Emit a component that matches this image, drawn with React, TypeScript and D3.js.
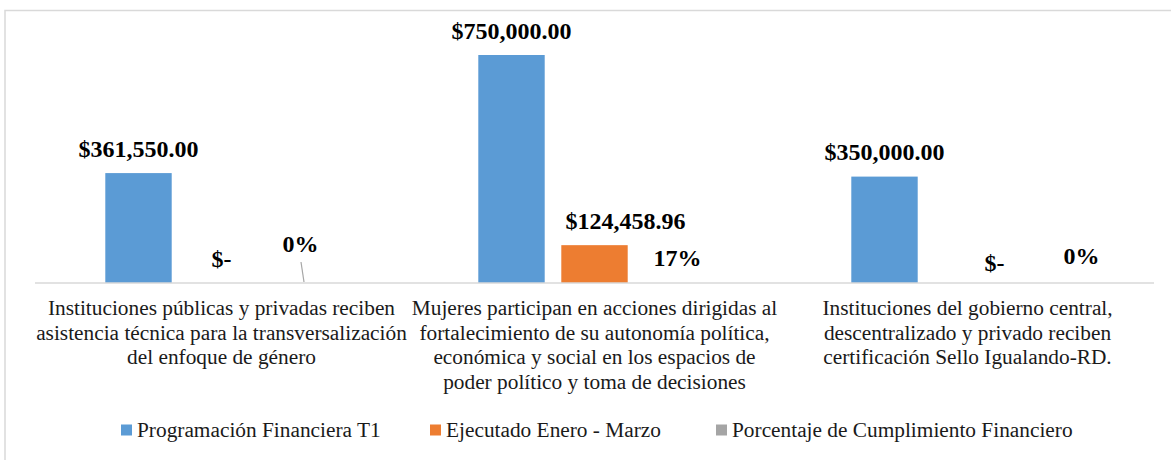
import React from "react";
import * as d3 from "d3";

// ---- data ----
const categories: string[][] = [
  ["Instituciones públicas y privadas reciben", "asistencia técnica para la transversalización", "del enfoque de género"],
  ["Mujeres participan en acciones dirigidas al", "fortalecimiento de su autonomía política,", "económica y social en los espacios de", "poder político y toma de decisiones"],
  ["Instituciones del gobierno central,", "descentralizado y privado reciben", "certificación Sello Igualando-RD."],
];
const seriesNames = ["Programación Financiera T1", "Ejecutado Enero - Marzo", "Porcentaje de Cumplimiento Financiero"];
const programacion = [361550, 750000, 350000];
const ejecutado = [0, 124458.96, 0];
const porcentaje = [0, 0.17, 0];
const programacionLabels = ["$361,550.00", "$750,000.00", "$350,000.00"];
const ejecutadoLabels = ["$-", "$124,458.96", "$-"];
const porcentajeLabels = ["0%", "17%", "0%"];

// manual label nudges (layout), [series][category] -> [dx, dy]
const labelNudges: [number, number][][] = [
  [[0, 0], [0, 0], [0, 0]],
  [[0, 0], [31, 0], [27, 4]],
  [[-4, -15], [0, 0], [31, -3]],
];

const colors = ["#5B9BD5", "#ED7D31", "#A5A5A5"];

const W = 1171;
const H = 460;
const axisY = 283;
const plotLeft = 35;
const plotRight = 1154;
const serif = "'Times New Roman', 'Liberation Serif', serif";

export default function App() {
  const x0 = d3.scaleBand<number>().domain([0, 1, 2]).range([plotLeft, plotRight]).padding(0);
  const bw = x0.bandwidth();
  const x1 = d3
    .scaleBand<number>()
    .domain([0, 1, 2])
    .range([bw / 2 - 124.5, bw / 2 + 124.5])
    .paddingInner(0.2)
    .paddingOuter(0.1);
  const y = d3.scaleLinear().domain([0, 750000]).range([axisY, 55]);

  const values = [programacion, ejecutado, porcentaje];
  const labels = [programacionLabels, ejecutadoLabels, porcentajeLabels];

  const legendX = [121, 430, 716];

  return (
    <svg
      width={W}
      height={H}
      style={{ position: "absolute", left: 0, top: 0, display: "block", background: "#fff" }}
    >
      <rect x={5} y={10.5} width={1300} height={600} fill="#fff" stroke="#D9D9D9" strokeWidth={1.5} />
      {values.map((vals, si) =>
        vals.map((v, ci) => {
          const bx = x0(ci)! + x1(si)!;
          const top = y(v);
          return (
            <rect
              key={`b${si}-${ci}`}
              x={bx}
              y={top}
              width={x1.bandwidth()}
              height={Math.max(0, axisY - top)}
              fill={colors[si]}
            />
          );
        })
      )}
      <line x1={plotLeft} x2={plotRight} y1={axisY} y2={axisY} stroke="#D9D9D9" strokeWidth={1.5} />
      {/* leader line for moved label */}
      {(() => {
        const cx = x0(0)! + x1(2)! + x1.bandwidth() / 2;
        return <line x1={cx - 3.5} y1={262} x2={cx - 0.5} y2={axisY - 1} stroke="#A6A6A6" strokeWidth={1.2} />;
      })()}
      {values.map((vals, si) =>
        vals.map((v, ci) => {
          const cx = x0(ci)! + x1(si)! + x1.bandwidth() / 2;
          const [dx, dy] = labelNudges[si][ci];
          return (
            <text
              key={`l${si}-${ci}`}
              x={cx + dx}
              y={y(v) - 16.5 + dy}
              textAnchor="middle"
              fontFamily={serif}
              fontWeight="bold"
              fontSize={24}
              fill="#000"
            >
              {labels[si][ci]}
            </text>
          );
        })
      )}
      {categories.map((lines, ci) => (
        <text
          key={`c${ci}`}
          textAnchor="middle"
          fontFamily={serif}
          fontSize={21.33}
          fill="#1a1a1a"
        >
          {lines.map((ln, li) => (
            <tspan key={li} x={x0(ci)! + bw / 2} y={315 + li * 24.5}>
              {ln}
            </tspan>
          ))}
        </text>
      ))}
      {seriesNames.map((name, si) => (
        <g key={`lg${si}`}>
          <rect x={legendX[si]} y={424.5} width={11} height={11} fill={colors[si]} />
          <text x={legendX[si] + 16} y={436.7} fontFamily={serif} fontSize={21.33} fill="#1a1a1a">
            {name}
          </text>
        </g>
      ))}
    </svg>
  );
}
